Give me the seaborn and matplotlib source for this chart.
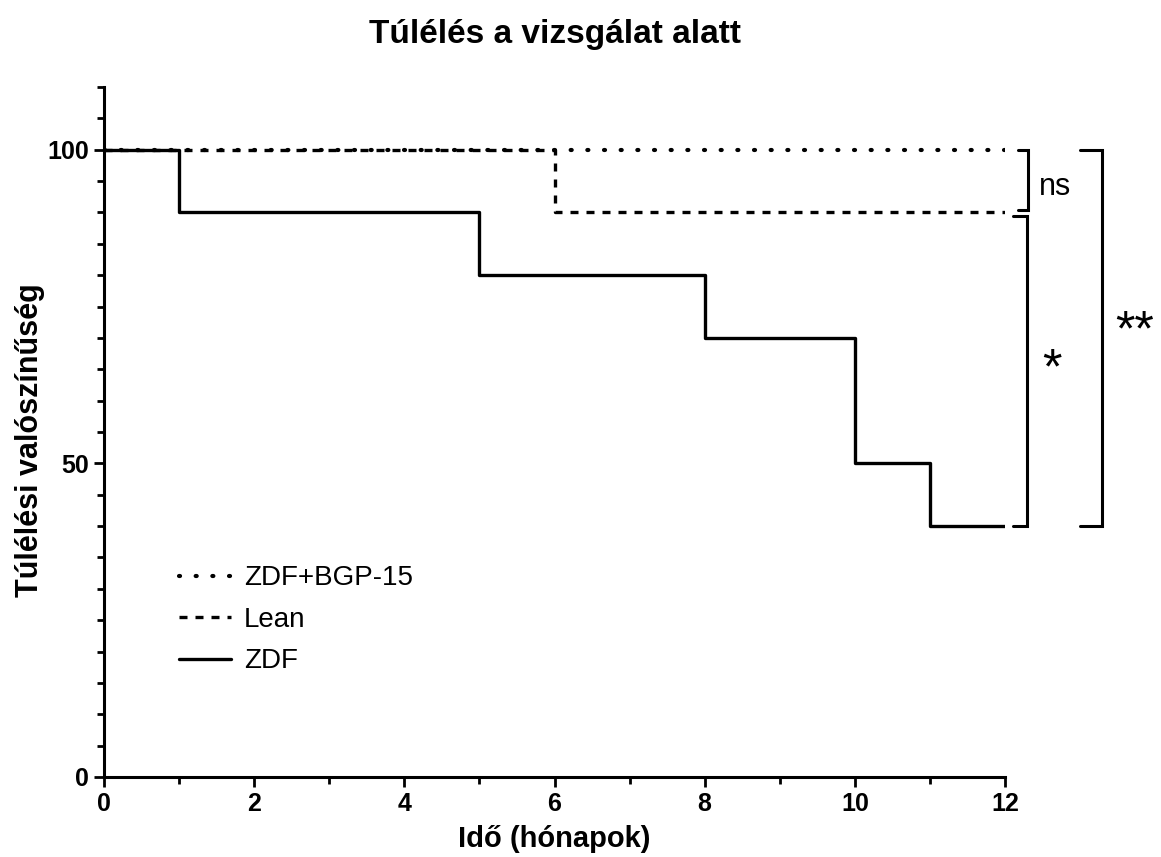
import matplotlib
matplotlib.use("Agg")
import matplotlib.pyplot as plt
import seaborn as sns
import pandas as pd
import numpy as np
from matplotlib.ticker import MultipleLocator

sns.set_theme(style="ticks")
plt.rcParams['font.family'] = ['Liberation Sans', 'DejaVu Sans']
plt.rcParams['text.color'] = 'black'
plt.rcParams['axes.labelcolor'] = 'black'
plt.rcParams['xtick.color'] = 'black'
plt.rcParams['ytick.color'] = 'black'

# Data
groups = ["ZDF+BGP-15", "Lean", "ZDF"]
time_bgp = [0, 12]
surv_bgp = [100, 100]
time_lean = [0, 6, 12]
surv_lean = [100, 90, 90]
time_zdf = [0, 1, 5, 8, 10, 11, 12]
surv_zdf = [100, 90, 80, 70, 50, 40, 40]
x_ticks = [0, 2, 4, 6, 8, 10, 12]
y_ticks = [0, 50, 100]

fig = plt.figure(figsize=(11.61, 8.57), dpi=100)
ax = fig.add_axes([104/1161, 1-777/857, (1005-104)/1161, (777-87)/857])

lw = 2.4
sns.lineplot(x=time_lean, y=surv_lean, ax=ax, color="black", lw=lw,
             drawstyle="steps-post", linestyle=(0, (2.4, 2.4)), label=groups[1])
sns.lineplot(x=time_zdf, y=surv_zdf, ax=ax, color="black", lw=lw,
             drawstyle="steps-post", linestyle="-", label=groups[2])
sns.lineplot(x=time_bgp, y=surv_bgp, ax=ax, color="black", lw=3.0,
             drawstyle="steps-post", linestyle=(0, (0.25, 3.75)),
             dash_capstyle="round", label=groups[0])

ax.set_xlim(0, 12)
ax.set_ylim(0, 110)
ax.set_xticks(x_ticks)
ax.set_yticks(y_ticks)
ax.xaxis.set_minor_locator(MultipleLocator(1))
ax.yaxis.set_minor_locator(MultipleLocator(5))
ax.tick_params(which="major", length=7, width=2, labelsize=18, direction="out", color="black", pad=4)
ax.tick_params(which="minor", length=5, width=2, direction="out", color="black")
for lab in ax.get_xticklabels() + ax.get_yticklabels():
    lab.set_fontweight("bold")
for s in ["top", "right"]:
    ax.spines[s].set_visible(False)
for s in ["left", "bottom"]:
    ax.spines[s].set_linewidth(2.2)
    ax.spines[s].set_color("black")

ax.set_xlabel("Idő (hónapok)", fontsize=21, fontweight="bold", labelpad=6)
ax.set_ylabel("Túlélési valószínűség", fontsize=22, fontweight="bold")
ax.yaxis.set_label_coords(-0.066, 0.488)
fig.text(555/1161, 1-35/857, "Túlélés a vizsgálat alatt", ha="center", va="center",
         fontsize=24, fontweight="bold")

handles, labels = ax.get_legend_handles_labels()
order = [labels.index(g) for g in groups]
leg = ax.legend([handles[i] for i in order], [labels[i] for i in order],
                loc="upper left", bbox_to_anchor=(0.055, 0.343), frameon=False,
                fontsize=20, handlelength=1.9, handletextpad=0.45, labelspacing=0.56)

# significance brackets
def bracket(x0, x1, y0, y1):
    ax.plot([x0, x1, x1, x0], [y0, y0, y1, y1], color="black", lw=2.2,
            clip_on=False, solid_joinstyle="miter")

bracket(12.17, 12.31, 100, 90.4)
ax.text(12.45, 94, "ns", fontsize=22, ha="left", va="center", clip_on=False)
bracket(12.11, 12.29, 89.5, 40)
ax.text(12.63, 64.9, "*", fontsize=36, ha="center", va="center", clip_on=False)
bracket(13.0, 13.29, 100, 40)
ax.text(13.73, 70.9, "**", fontsize=36, ha="center", va="center", clip_on=False)

fig.savefig("out.png", dpi=100)
